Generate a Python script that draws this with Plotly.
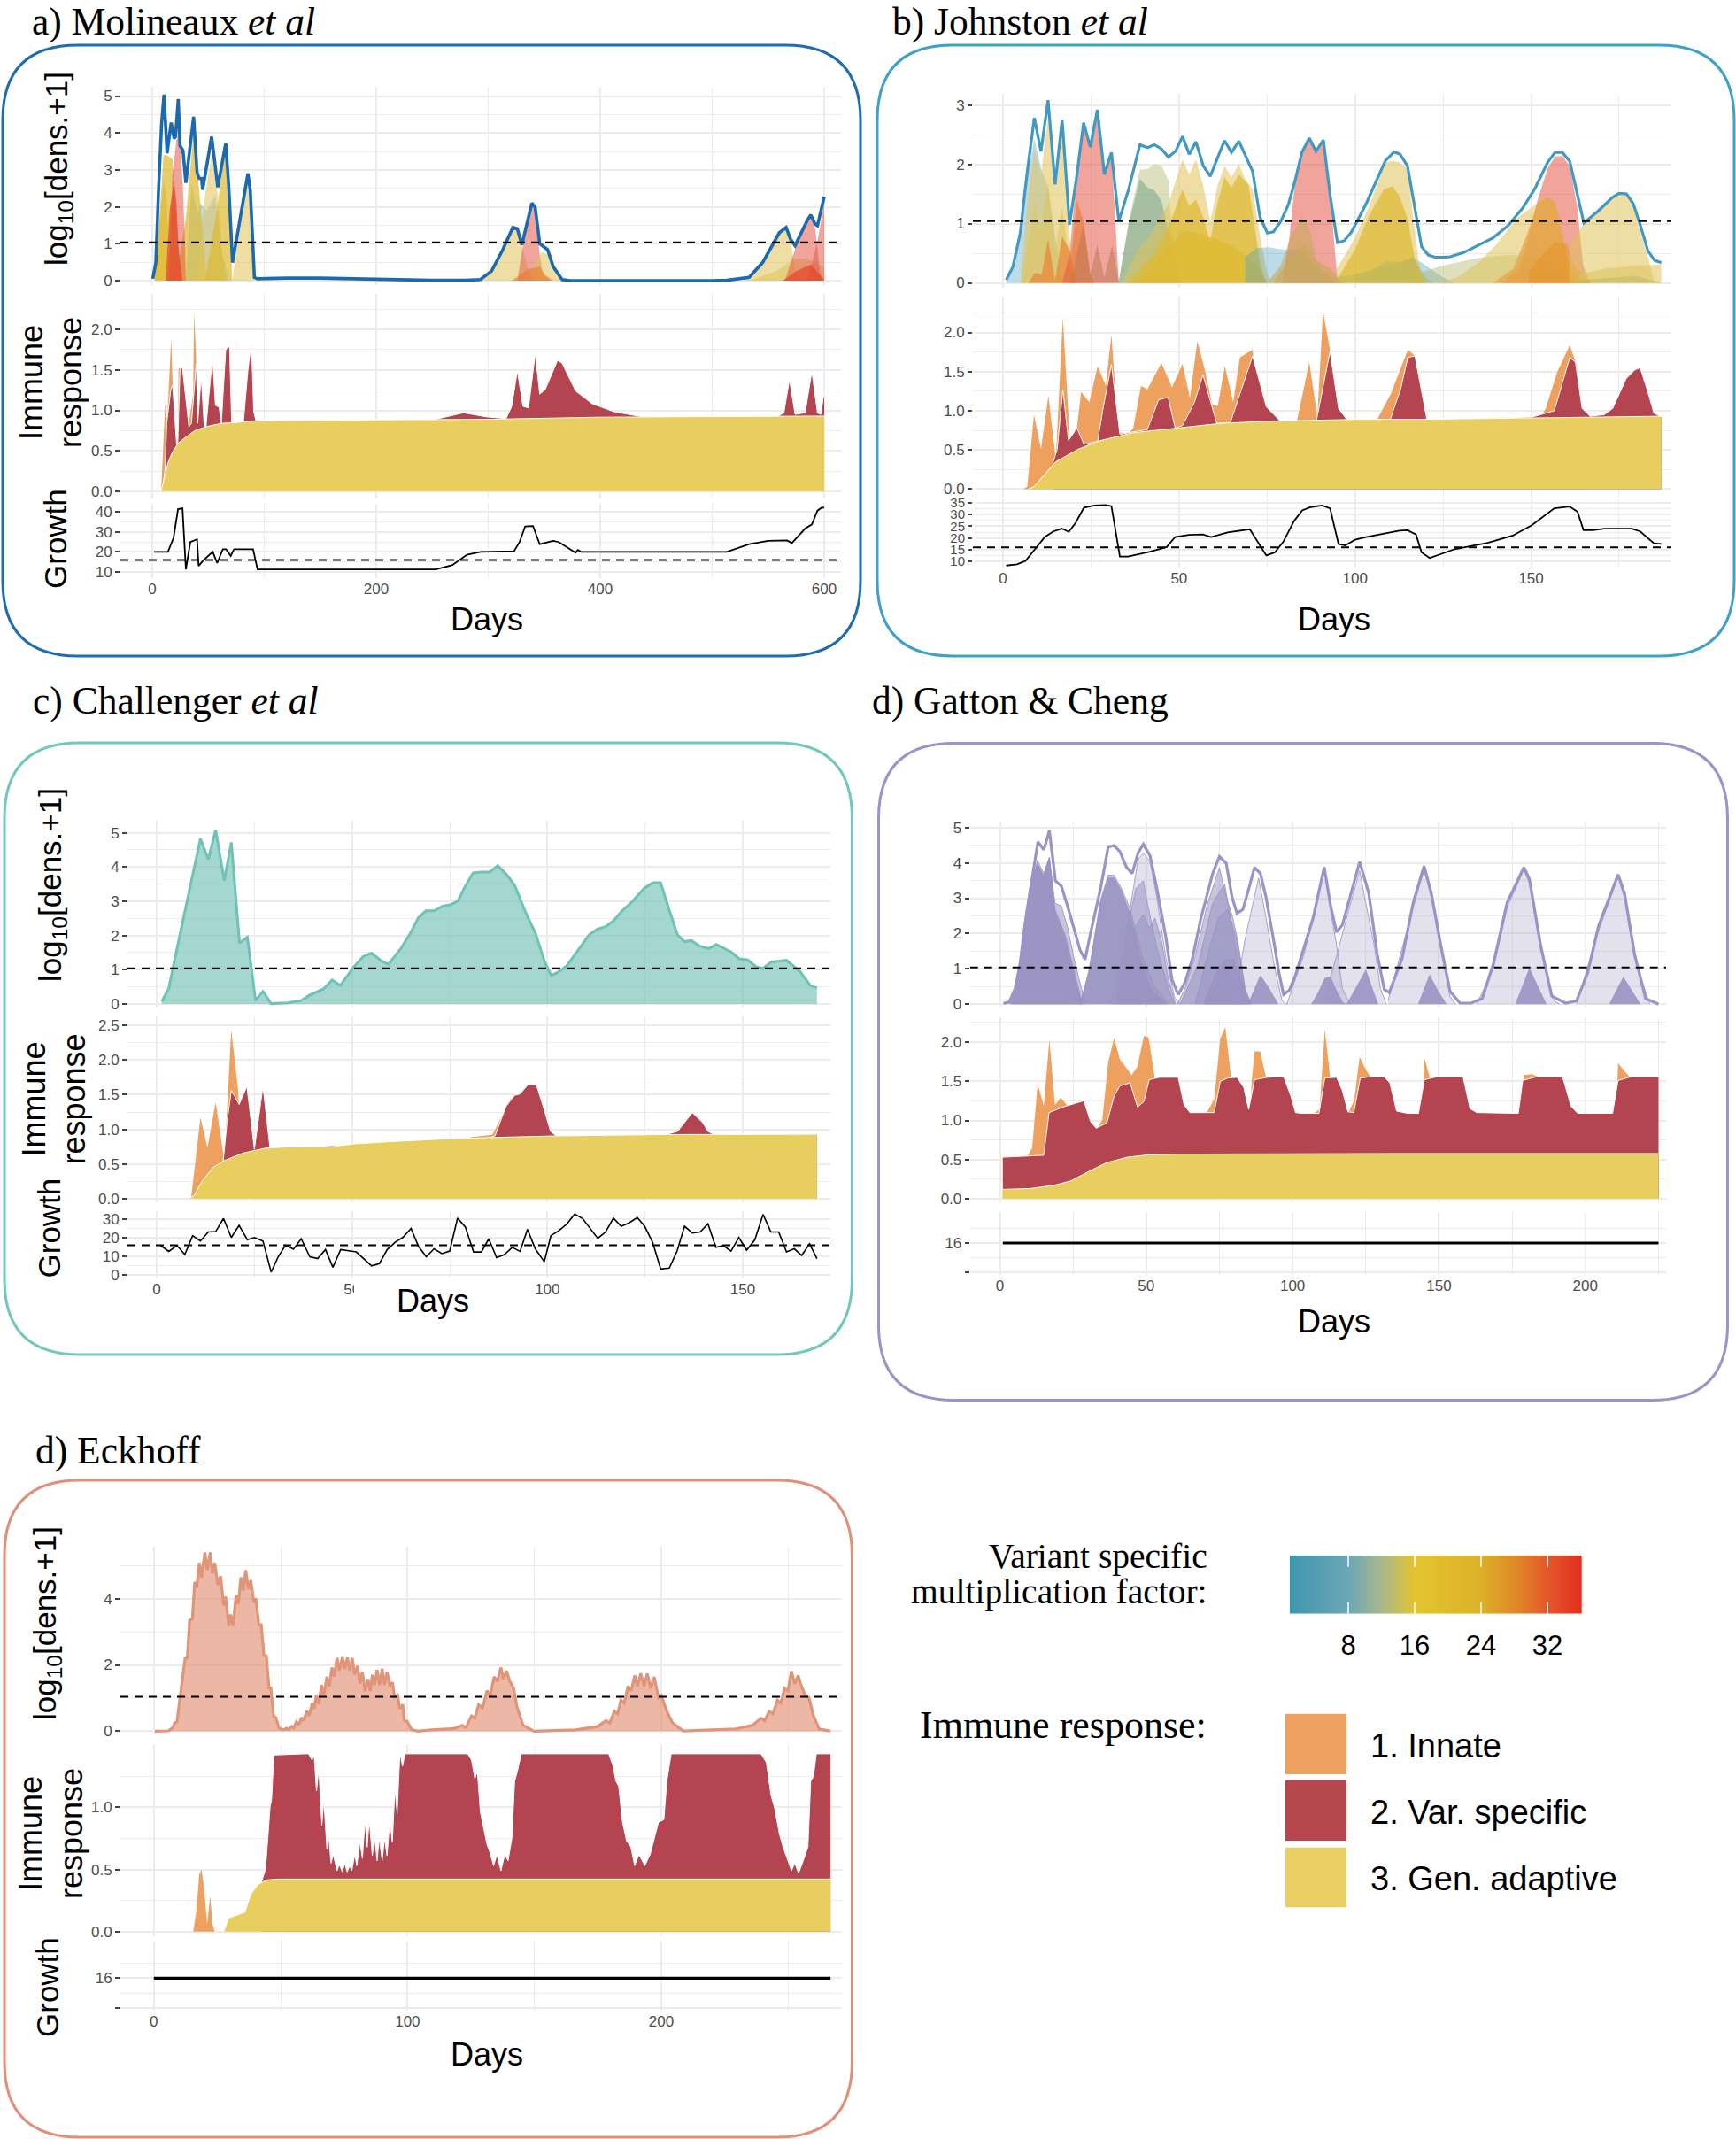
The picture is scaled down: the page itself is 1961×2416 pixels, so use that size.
import plotly.graph_objects as go

W, H = 1961, 2416

# ---------- Panel a) Molineaux ----------
A_TOTAL = [(0.5,.05),(3.2,.49),(5.8,2.6),(8.4,4.28),(10.5,5.04),(13.2,3.45),(16.9,4.28),(19.5,3.85),(20.8,3.9),(23.2,4.92),(24.8,3.65),(27.4,3.53),(30,2.65),(36.9,4.44),(40,2.93),(41.9,2.77),(44,2.77),(45,2.46),(53,3.9),(58.5,2.53),(65.6,3.72),(68.2,2.6),(71.7,.49),(85.4,2.9),(87.5,2.45),(91.2,.09),(93.8,.05),(120,.07),(150,.07),(200,.03),(250,.01),(280,.01),(293,.03),(303,.26),(313,.84),(322,1.44),(326,1.41),(330,.97),(339,2.1),(342,1.98),(346,1.0),(353,.84),(358,.38),(366,.03),(373,0),(500,0),(513,.01),(533,.09),(545,.49),(560,1.3),(566,1.44),(570,1.12),(574,.95),(585,1.64),(588,1.78),(592,1.53),(594,1.49),(600,2.27)]
A_V1 = [(2,0),(6,1.5),(10,3.4),(13,3.4),(18,3.3),(22,1.5),(26,0)]
A_V2 = [(14.8,0),(17.9,2.85),(21.6,3.8),(23.2,3.97),(25.3,3.56),(27.4,2.5),(29,1.2),(30,0)]
A_V3 = [(12,0),(15.5,1.9),(19.5,2.7),(21.6,2.1),(23.5,.85),(26,.2),(27,0)]
A_V4 = [(21,0),(30,1.7),(37,4.05),(42,2.5),(45,1.4),(48,.2),(49,0)]
A_V5 = [(40.5,0),(43,1.0),(47,2.3),(53,3.4),(58.5,2.3),(63,.5),(65,0)]
A_V6 = [(47,0),(57.7,1.9),(65.6,3.72),(68,2.6),(71.4,0)]
A_V7 = [(30,0),(35,2.6),(40.6,1.8),(43,2.1),(48.5,1.9),(56.4,2.3),(61.7,.85),(67,.1),(68,0)]
A_V8 = [(71.4,0),(85.4,2.9),(87.5,2.45),(91,0)]
A_V9 = [(2.4,0),(6.3,1.5),(10.3,2.7),(13,2.1),(15.5,.5),(17,0)]
A_W1 = [(293,0),(303,.26),(313,.84),(322,1.41),(326,1.35),(330,.95),(336,.26),(343,0)]
A_W2 = [(326,0),(331,.95),(339,2.06),(342,1.93),(346,.72),(349,.15),(356,0)]
A_W3 = [(338,0),(342,.49),(348,.78),(353,.72),(358,.38),(365,0)]
A_W4 = [(321,0),(336,.32),(346,.38),(351,.15),(358,0)]
A_X1 = [(528,0),(545,.49),(560,1.3),(566,1.41),(570,1.07),(575,.15),(583,0)]
A_X2 = [(565,0),(575,.95),(585,1.64),(588,1.75),(592,1.41),(596,.26),(598,0)]
A_X3 = [(585,0),(594,1.07),(600,2.1)]
A_X4 = [(533,0),(557,.26),(574,.6),(584,.6),(600,.38)]
A_X5 = [(563,0),(575,.26),(588,.44),(596,.15),(600,.03)]
A_YELLOW = [(7.9,0),(10.3,.15),(14.2,.36),(18.2,.49),(23.5,.6),(30,.67),(38,.75),(48.5,.8),(61.7,.84),(75,.85),(90.6,.87),(117,.875),(300,.89),(400,.916),(500,.925),(600,.93)]
A_RED = [(9,0),(11.6,.29),(12.9,.84),(16.5,1.25),(18.2,1.31),(21.6,.6),(22.7,.56),(24.8,1.51),(26.9,1.53),(32.7,.8),(35,.84),(39.3,1.58),(40.6,.84),(43.7,1.42),(46.4,.8),(48,.8),(53.8,1.66),(56.4,1.06),(59.6,1.04),(61.7,.84),(65.6,1.75),(69,1.79),(70.9,.84),(81.4,.86),(85.4,1.49),(88.5,1.84),(90.6,.98),(92.7,.87),(117,.875),(240,.885),(253,.89),(278,.97),(298,.92),(316,.9),(321,1.05),(326,1.49),(331,1.05),(336,1.03),(342,1.7),(346,1.2),(351,1.26),(362,1.62),(366,1.58),(378,1.24),(393,1.08),(413,.98),(438,.92),(558,.92),(564,.97),(569,1.38),(574,.95),(583,.97),(589,1.48),(594,.97),(597,.95),(600,1.23)]
A_ORANGE = [(7.9,0),(11.6,1.09),(12.9,.84),(14.5,1.2),(16.9,1.89),(18.2,1.31),(21.6,.6),(22.7,.56),(23.5,1.53),(24.8,1.51),(30,.6),(36.5,1.2),(37.4,2.22),(39.3,1.58),(40.6,.5),(45,0)]
A_GROWTH = [(1.5,20),(14,20),(19,27),(23,41.3),(27,41.7),(30,11.3),(34,24.9),(40,26.2),(41.4,13),(46,16),(54,20),(58,14.4),(63,21.3),(66,21.3),(70,18),(73,21.3),(90,21.3),(94,11.3),(253,11.3),(268,13.4),(281,18.6),(293,20),(323,20.3),(328,24.9),(333,32.7),(340,32.9),(346,23.8),(358,25.5),(363,24.9),(378,19.6),(380,21),(383,20),(513,20),(533,23.8),(550,25.5),(567,25.7),(571,24.3),(583,31.6),(589,33.7),(594,40.6),(598,42.1),(600,42)]

# ---------- Panel b) Johnston ----------
B_TOTAL = [(.9,.05),(2.8,.27),(4.9,.84),(6.8,1.83),(8.9,2.78),(10.8,2.22),(12.8,3.08),(14.8,1.66),(16.8,2.75),(18.9,.98),(20.9,1.78),(22.9,2.7),(24.8,2.29),(26.8,2.92),(28.8,1.83),(30.8,2.2),(32.9,1.04),(35.7,1.58),(38.9,2.33),(41,2.28),(43,2.33),(45,2.26),(47,2.12),(49,2.22),(51,2.47),(52.9,2.17),(54.8,2.38),(56.9,1.97),(58.9,1.8),(60.9,2.1),(62.9,2.4),(64.9,2.2),(67,2.39),(69,2.13),(70.9,1.88),(73,1.11),(75.1,.84),(76.8,.86),(78.9,1.04),(81,1.31),(83,1.73),(84.9,2.2),(87,2.44),(88.9,2.22),(91,2.41),(93,1.44),(95,.68),(96.9,.71),(99,.86),(103.2,1.34),(108.6,2.06),(111.1,2.21),(112.8,2.17),(114.9,1.97),(117,1.29),(118.9,.61),(120.8,.47),(122.9,.43),(124.9,.43),(127,.44),(130.8,.51),(135,.63),(139.2,.76),(143.4,.96),(147.6,1.26),(151,1.58),(154.7,2.03),(156.8,2.2),(158.9,2.2),(161,2.05),(163.1,1.49),(165,1.01),(169,1.21),(173.1,1.44),(175,1.51),(177.1,1.5),(179,1.34),(181.1,.96),(183.2,.54),(185.1,.38),(187,.34)]
B_L1 = [(.9,0),(2.8,.24),(4.9,.79),(6.8,1.78),(8.9,2.43),(10.8,1.93),(12.8,1.6),(14.8,.79),(16.8,0)]
B_L2 = [(5,0),(6.8,1.29),(8.9,2.26),(10.8,1.83),(12.8,2.78),(14.8,1.63),(16.8,2.73),(18.9,.79),(20.6,0)]
B_L3 = [(5,0),(8.9,1.29),(10.8,.89),(12.8,1.73),(14.8,.54),(16.8,1.29),(18.9,.39),(21,0)]
B_L4 = [(7.2,0),(9.1,.17),(11,.14),(12.8,.74),(14.8,.04),(16.8,.79),(18.9,.54),(20.6,0)]
B_L5 = [(16.8,0),(18.9,.49),(20.9,1.78),(22.9,2.7),(24.8,2.29),(26.8,2.9),(28.8,1.83),(30.8,2.2),(32.9,0)]
B_L6 = [(18.7,.04),(21,1.39),(22.9,1.04),(24.8,.14),(26,0)]
B_L7 = [(19.3,.04),(22.9,.99),(24.8,.14),(26.8,.64),(28.8,.09),(31,.64),(33,0)]
B_L8 = [(32.8,0),(35.7,1.04),(38.9,1.91),(41,1.92),(43,2.0),(45,1.98),(47,1.73),(47.9,.89),(50.4,.04),(51,0)]
B_L9 = [(32.8,0),(35.7,.99),(38.9,1.76),(41,1.61),(43,1.56),(45,1.39),(47,.89),(50.4,0)]
B_L10 = [(33.6,0),(38.6,.59),(42.8,.89),(47,1.34),(51,2.08),(52.9,1.83),(54.8,2.08),(56.9,1.63),(58.9,1.04),(60.9,1.63),(62.9,1.97),(64.9,1.78),(67,2.0),(69,1.73),(70.9,1.58),(73,.79),(75.1,.14),(76.4,0)]
B_L11 = [(35.3,0),(42.8,.49),(47,.94),(51,1.58),(52.9,1.29),(54.8,1.41),(57,1.09),(58.8,.69),(60.9,1.34),(62.9,1.78),(64.9,1.61),(67,1.83),(69.7,1.66),(70.9,1.19),(73,.34),(74.7,0)]
B_L12 = [(38.6,0),(47,.59),(51,.89),(55.4,.84),(60.4,.74),(66.3,.59),(72.2,.29),(75.1,0)]
B_L13 = [(68.8,.44),(72.2,.59),(75.5,.6),(79.7,.56),(83.9,.56),(88.9,.29),(94.8,0)]
B_L14 = [(79.3,0),(81.4,.79),(83,1.73),(85,2.2),(87,2.44),(88.9,2.22),(91,2.41),(93,1.44),(94.8,.19),(95.2,0)]
B_L15 = [(75.5,.04),(78.9,.29),(82.2,.84),(85.2,1.11),(87.3,.89),(88.9,.39),(91.4,.19),(96.9,0)]
B_L16 = [(77,.04),(82.2,.44),(85.6,.66),(88.9,.39),(93.1,.24),(96.5,0)]
B_C1 = [(94.8,.24),(99.8,.74),(104,1.29),(108.6,2.03),(110.7,2.06),(112.8,2.03),(114.9,1.93),(117,.89),(118.4,.19),(120,0)]
B_C2 = [(94.8,.05),(99.8,.54),(104,1.14),(108.2,1.58),(110.7,1.63),(112.8,1.44),(114.9,1.09),(117,.39),(120,0)]
B_C3 = [(116.6,.14),(125,.29),(135,.42),(143.4,.47),(152.6,.44),(157.6,.29),(161.8,.04),(163.5,0)]
B_C4 = [(99.8,.14),(116.6,.42),(119,.34),(125,.09),(128.3,0)]
B_C5 = [(94.8,.1),(99.8,.14),(104,.19),(109,.37),(112.4,.34),(116.6,.44),(120,.09),(122.4,0)]
B_C6 = [(123.3,0),(129,.09),(135,.34),(140,.64),(146,1.09),(151,1.31),(153.4,1.44),(156.8,1.36),(159.3,.79),(161.8,.24),(163.5,0)]
B_C7 = [(141.7,0),(146.7,.24),(149.3,.79),(151.8,1.39),(154.7,1.93),(156.8,2.13),(158.9,2.14),(161,1.98),(163.1,1.29),(164.8,.29),(166.9,0)]
B_C8 = [(139.2,0),(145,.24),(149.3,.89),(151.8,1.34),(154.7,1.44),(156.8,1.36),(158.5,.94),(161,.24),(163.5,.09),(166.4,0)]
B_C9 = [(149.3,.19),(153.4,.49),(156.8,.69),(160.2,.66),(162.2,.29),(166.9,0)]
B_C10 = [(161,.69),(165,.99),(169,1.21),(173.1,1.41),(175.2,1.49),(177.1,1.47),(179,1.29),(181.1,.84),(183.2,.44),(184.9,.04),(187,0)]
B_C11 = [(163.5,.14),(171,.24),(179.4,.29),(187,.31)]
B_C12 = [(163.5,.04),(172.7,.09),(179.4,.12),(187,0)]
B_YELLOW = [(7.2,0),(8.8,.03),(15,.35),(21.4,.51),(27.7,.62),(37,.72),(49.7,.78),(62,.84),(75,.865),(100,.89),(119,.89),(150,.91),(187,.93)]
B_RED = [(14.3,.35),(15.4,.51),(17,1.27),(18.6,.62),(21,.78),(23,.57),(26.9,.61),(28.5,1.05),(30.8,1.59),(33.2,.7),(37,.73),(41,.76),(44.2,1.14),(46.9,1.17),(48.9,.78),(51,.81),(54.4,1.11),(56.8,1.46),(60.7,.84),(64.6,.85),(70.9,1.7),(74.8,1.05),(78.8,.865),(89,.865),(92.9,1.76),(95.3,1.03),(97.6,.89),(100,.88),(110,.89),(112.9,1.27),(115,1.68),(117,1.7),(120.4,.89),(150.3,.92),(156.6,1.0),(159,1.38),(161,1.68),(162.6,1.62),(164.5,1.03),(166.8,.93),(170.8,.95),(173.2,1.03),(177,1.41),(179.4,1.52),(181,1.55),(183.3,1.22),(184.9,.97),(187,.92)]
B_ORANGE = [(5.7,0),(6.9,.03),(8.8,.95),(10.8,.51),(12.9,1.19),(15,.38),(17,2.19),(19,.62),(21,.78),(22.2,1.24),(24.5,1.11),(26.9,1.57),(29.2,1.32),(30.8,1.97),(32.7,.73),(35.5,.7),(37,.78),(39.2,1.32),(41,1.27),(45,1.61),(48,1.3),(51,1.6),(53.1,1.16),(55.2,1.89),(57.5,1.49),(59.4,1.08),(61,1.06),(63,1.57),(65.4,1.11),(67.3,1.68),(70.9,1.78),(72,1.2),(78,.5),(83.5,.87),(87,1.62),(89.3,.92),(90.9,2.27),(92.9,1.78),(95.3,.9),(100,.5),(106.3,.89),(110.2,1.22),(115,1.78),(117,1.7),(119,.8),(151,.8),(154.2,1.03),(157.4,1.49),(161,1.84),(162.9,1.59),(164.5,.9),(166,0)]
B_GROWTH = [(.9,8.2),(4,8.7),(6.4,10.2),(8.8,14.7),(11.9,20.4),(14.3,22.8),(16.7,24),(18.7,22.6),(20.6,26.4),(23,33),(26,33.9),(29.2,34.1),(30.8,33.6),(33.2,12),(35.5,12),(41.8,14.1),(46.5,16.1),(48.9,20.4),(52.8,21.3),(56.8,21.5),(59.1,20.4),(63.8,22.4),(70.1,23.7),(74.8,12.5),(77.2,13.8),(79.6,18.3),(82.7,27.3),(85,31.8),(87.4,33.2),(90.6,33.9),(92.9,32.7),(95.3,17.4),(97.2,16.8),(100,19.2),(103.1,20.4),(112.6,23.1),(114.9,23.3),(117.3,21.5),(118.9,13.8),(121.2,11.4),(128.3,15.2),(137.7,17.9),(144.8,21),(150.3,25.5),(156.6,32.7),(161,33.4),(163.2,31.2),(164.9,23.3),(167.6,23.3),(170.8,24),(178.6,24),(181,22.8),(184.9,17.7),(187,17.4)]

# ---------- Panel c) Challenger ----------
C_TOTAL = [(1.3,.07),(3.1,.46),(5.2,1.62),(7.4,2.81),(9.5,3.87),(11.2,4.83),(13.2,4.22),(15.1,5.08),(17.3,3.6),(19.1,4.72),(21.2,1.78),(23.2,1.95),(25.3,.1),(27.2,.37),(29.3,.01),(33.5,.03),(37,.1),(39.2,.26),(42.7,.44),(44.9,.7),(47,.54),(50.5,1.09),(52.9,1.39),(55,1.49),(57.6,1.25),(59.3,1.16),(62.5,1.62),(64.7,2.02),(67,2.52),(68.9,2.72),(71,2.72),(73.2,2.86),(75.3,2.9),(77.1,3.01),(78.8,3.4),(81,3.83),(83.1,3.85),(85.2,3.85),(87.3,4.04),(89.4,3.8),(91.6,3.47),(94.4,2.68),(96.9,2.08),(99.3,1.23),(101,.83),(102.9,.94),(105,1.12),(107.1,1.46),(110.7,2.02),(112.8,2.19),(114.9,2.26),(117,2.44),(119.1,2.72),(121.3,2.94),(124.8,3.38),(127,3.54),(129,3.54),(131.2,2.74),(133.3,2.02),(135.1,1.82),(136.8,1.85),(139,1.69),(141.4,1.62),(143.2,1.74),(147,1.52),(149.1,1.32),(151.3,1.29),(153.4,1.09),(155.2,1.04),(157.4,1.23),(161.2,1.28),(164.7,.94),(167.3,.54),(169,.47)]
C_YELLOW = [(8,0),(9.5,.04),(11.6,.25),(14.4,.45),(17.3,.55),(22.2,.66),(27.9,.73),(35,.75),(44.9,.75),(50.5,.79),(59,.82),(73.2,.86),(87.3,.885),(101.5,.905),(129.8,.925),(169,.93)]
C_RED = [(17,.53),(18,1.1),(19.1,1.56),(21.1,1.36),(23.1,1.62),(25,.71),(27.2,1.62),(29,.73),(35,.74),(84.5,.87),(86.6,.905),(89.4,1.33),(91.6,1.49),(93,1.51),(95.1,1.65),(97.2,1.64),(99.3,1.26),(100.8,.97),(102.2,.91),(130,.92),(133.3,.97),(137.1,1.24),(139.7,1.1),(141.1,.97),(142.5,.93),(169,.92)]
C_ORANGE = [(8.8,0),(10,.6),(11.2,1.17),(13,.74),(15.1,1.39),(17.3,.55),(19.1,2.43),(20.8,1.59),(22,.5),(78,.5),(80.2,.885),(85.9,.92),(88.7,1.23),(90.8,1.46),(92,.8),(94,0)]
C_GROWTH = [(1,15.9),(3.1,12.7),(5.2,15.9),(7.2,11),(9.2,21.2),(11.2,18.3),(13.2,23.2),(15.1,23.4),(17.1,30.5),(19.1,20.2),(21.1,26.8),(23.2,19),(25,20.2),(27.2,18.3),(29.3,1.5),(31.1,9.8),(33,16.1),(35,13.9),(37,19.5),(39.2,9.8),(41.2,8.8),(43.2,13.7),(45.1,4.1),(47.1,13.7),(51.1,12.4),(55,4.9),(57,6.1),(59,13.7),(61.1,17.8),(63,20.2),(65.1,25.1),(67,15.4),(69,9.8),(71,14.1),(73,11.5),(75,12.9),(77,30.7),(79,25.9),(81.1,12.4),(83.1,12.4),(85,19.5),(87,9.3),(89,11),(91,14.9),(93,12.7),(94.9,24.6),(96.9,14.1),(99.2,7.1),(100.9,21.2),(102.9,23.9),(105,27.6),(107,32.9),(109,30.5),(111,25.1),(112.9,19.8),(114.9,23.2),(116.9,30.7),(118.9,26.3),(120.8,28),(123,31),(124.9,26.3),(126.9,17.8),(129,3.2),(131.2,3.7),(133.2,12.9),(135.1,26.3),(137.1,22.7),(139.1,23.2),(141.1,27.6),(143.1,14.9),(145,15.9),(147,12.9),(149,20.2),(151,13.4),(153.1,19),(155.2,32.7),(157.2,23.2),(159.2,23.2),(161.2,12.4),(163.2,14.1),(165.1,10.5),(167.1,16.8),(169,8.8)]

# ---------- Panel d) Gatton & Cheng ----------
D_TOTAL = [(1.2,.02),(3.2,.06),(5.2,.44),(7.2,1.27),(9.2,2.61),(11.2,3.7),(13,4.6),(15,4.37),(16.9,4.91),(19,3.49),(21,3.34),(23.1,2.78),(25.4,2.11),(27.4,1.53),(29.1,1.26),(31,2.03),(34.4,3.28),(37,4.45),(39,4.49),(41,4.32),(43.2,3.88),(45.2,3.7),(47.2,4.28),(49,4.53),(51.3,4.2),(53.6,3.28),(56.6,1.94),(58.8,.69),(60.9,.27),(63.2,.61),(65.7,1.27),(68.7,2.44),(72.7,3.7),(75,4.18),(77.3,3.99),(79.3,3.03),(81,2.57),(83,2.68),(84.8,3.2),(87,3.87),(89,3.7),(90.9,3.03),(93.4,1.86),(95.4,.86),(96.9,.27),(98.9,.4),(101,.82),(104,1.61),(107,2.44),(110.8,3.88),(113,2.78),(115,2.04),(117,2.24),(119.6,3.03),(122.9,4.03),(126,3.14),(128.9,1.42),(131.3,.42),(133,.33),(137.4,1.29),(141.2,2.88),(144.9,3.91),(147.4,3.14),(150.6,1.68),(153.8,.36),(157.2,.03),(161,.03),(164.8,.16),(168.6,1.15),(173.3,2.88),(179,3.87),(180.9,3.54),(184.7,1.68),(188.5,.23),(193.2,.03),(197,.09),(200.8,.89),(204.5,2.21),(211.2,3.67),(213.4,3.14),(216.8,1.42),(220.6,.16),(225,0)]
D_L1 = [(3.2,0),(5.2,.2),(7.2,1.1),(9.2,2.36),(11.2,3.45),(12.8,4.07),(15,3.7),(16.9,4.16),(18.8,2.86),(21,2.78),(23.1,2.19),(25.4,1.27),(28.4,.27),(29.4,.02)]
D_L2 = [(4.2,0),(6.2,.69),(8.2,2.03),(10.2,3.03),(12.8,3.91),(15,3.57),(16.9,4.13),(18.8,2.53),(22.3,1.69),(25.4,.69),(27.9,0)]
D_L3 = [(3.8,0),(6.2,.9),(8.2,2.25),(10.2,3.3),(12.8,3.98),(15,3.63),(16.9,4.14),(18.8,2.68),(22.3,1.95),(25.4,.95),(28.2,0)]
D_L4 = [(27.4,0),(30.4,.86),(34.4,2.86),(37,3.57),(39,3.57),(41.5,3.2),(44.5,2.53),(47.5,1.36),(51.6,.44),(56.6,0)]
D_L5 = [(27.4,0),(30.4,.95),(34.4,2.95),(37,3.65),(39,3.65),(41.5,3.28),(44.5,2.7),(48.5,1.36),(52.6,.52),(57.6,0)]
D_L6 = [(37.5,0),(41.5,1.2),(44.5,2.7),(47.2,4.1),(49,4.28),(51.3,4.03),(53.6,3.03),(56.6,1.36),(59.6,.2),(61.5,0)]
D_L7 = [(39.5,0),(44.5,2.53),(46.5,3.28),(49,3.49),(50.6,2.78),(53.6,1.61),(57.6,.44),(59.6,0)]
D_L8 = [(40.5,0),(45.5,2.11),(49,2.53),(51,2.15),(53,2.44),(55,1.86),(57.6,.69),(60,0)]
D_L9 = [(60.6,0),(63.2,.44),(66.7,1.36),(70.7,2.78),(75,3.87),(77.3,3.03),(79.3,2.53),(81.3,1.78),(83.8,.44),(85.8,0)]
D_L10 = [(61.6,0),(67.7,1.11),(72.7,2.86),(76.8,3.4),(78.8,2.44),(81.3,1.19),(83.8,.27),(85.3,0)]
D_L11 = [(66.7,0),(71.7,1.61),(74.7,2.44),(77.8,2.69),(80.8,1.86),(83.8,.36),(85.8,0)]
D_L12 = [(69.7,0),(73.8,.86),(76.8,1.23),(79.8,1.27),(82.8,.52),(85.3,0)]
D_L13 = [(70.7,0),(74.7,.6),(76.8,.98),(79.3,.6),(81.8,.18),(83.8,0)]
D_L14 = [(78.8,0),(81,.52),(83.8,1.86),(88.4,3.57),(90.9,2.44),(93.9,1.02),(96.4,.1),(98,0)]
D_L15 = [(84.8,0),(87,.44),(89,.8),(91.4,.52),(95,0)]
D_L16 = [(98,0),(104,1.44),(110.8,3.82),(113,2.61),(115,1.69),(117,.44),(119.6,0)]
D_L17 = [(106.5,0),(109,.36),(111,.73),(113,.76),(115,.36),(117,.06),(118,0)]
D_L18 = [(111,.2),(115,1.36),(119,2.61),(122.9,3.78),(125,2.86),(128,1.61),(130,.44),(132,0)]
D_L19 = [(118.6,0),(121.6,.44),(125,.96),(127.2,.44),(129.1,0)]
D_L20 = [(132.6,.1),(141.2,2.75),(144.9,3.8),(147.4,3.0),(150.6,1.55),(153.8,.22),(155.7,0)]
D_L21 = [(143,0),(146.8,.82),(149.7,.36),(152.5,0)]
D_L22 = [(162.9,0),(168.6,1.02),(173.3,2.75),(179,3.8),(180.9,3.41),(184.7,1.55),(189.4,.09),(191.3,0)]
D_L23 = [(176.2,0),(180.9,1),(186.6,0)]
D_L24 = [(197,0),(204.5,2.08),(211.2,3.6),(213.4,3.0),(216.8,1.29),(222,0)]
D_L25 = [(208.3,0),(213,.76),(218.7,0)]
D_YELLOW = [(1,.12),(10.2,.13),(18.3,.17),(24.3,.23),(30.4,.35),(36.4,.46),(43.5,.53),(50.6,.56),(60.6,.57),(133,.577),(225,.577)]
D_RED = [(1,.53),(15,.555),(16.8,1.1),(22.3,1.18),(28.7,1.25),(30.9,.99),(32.9,.9),(36.6,.97),(39,1.31),(41,1.44),(44.5,1.48),(47,1.17),(49.2,1.24),(51,1.52),(54.6,1.55),(60.9,1.55),(62.9,1.2),(64.9,1.1),(73.2,1.1),(75.3,1.5),(77.8,1.54),(81,1.55),(83.3,1.42),(85,1.14),(87,1.52),(91.4,1.55),(96.9,1.56),(99.4,1.31),(101,1.1),(103,1.09),(109,1.09),(111,1.54),(115,1.55),(117,1.38),(118.9,1.11),(120.9,1.1),(123.1,1.54),(127.2,1.56),(131.2,1.56),(133.2,1.48),(135.5,1.12),(139.3,1.09),(143,1.09),(145,1.52),(149.7,1.56),(158.2,1.56),(160.6,1.15),(162.9,1.1),(177.1,1.09),(178.6,1.51),(183.7,1.56),(192.2,1.56),(195.1,1.18),(197.4,1.09),(209.3,1.09),(211.2,1.51),(215.9,1.56),(225,1.56)]
D_ORANGE = [(9.2,.535),(11,.64),(12.9,1.47),(15,1.18),(16.9,2.03),(18.8,1.2),(20.8,1.29),(22.8,1.2),(24,.5),(32,.5),(33.4,.9),(35,1.01),(37,1.74),(39,2.05),(41,1.78),(45,1.58),(47,1.69),(49.2,2.08),(50.8,2.06),(52.8,1.57),(54,.5),(69,.5),(70.7,1.1),(73.2,1.27),(75.3,2.05),(77,2.19),(78.8,1.61),(80,.5),(85,.5),(86,1.5),(87,1.88),(88.9,1.88),(90.9,1.55),(92,.5),(106,.5),(107.5,1.1),(109.2,1.14),(111,2.16),(112.8,1.55),(114,.5),(118,.5),(119,1.1),(121,1.25),(122.9,1.81),(125,1.65),(126.7,1.55),(128,.5),(144,.5),(145,1.8),(146.8,1.56),(148,.5),(177,.5),(178.1,1.09),(179,1.58),(181.8,1.59),(183.7,1.56),(185,.5),(210,.5),(211.2,1.73),(215,1.56),(216,.5),(225,.5)]
D_GROWTH = [(1,16),(225,16)]

# ---------- Panel e) Eckhoff ----------
E_TOTAL = [(.4,0),(5.7,.01),(7.4,.1),(8.2,.25),(9.1,.28),(10.3,1.03),(12.3,2.19),(13.2,2.21),(14.1,3.35),(15.2,3.39),(16.1,4.5),(16.9,4.33),(17.9,5.08),(18.8,4.64),(20.1,5.39),(21,4.86),(22.2,5.39),(23.1,4.77),(24,5.08),(25.2,4.41),(26.3,4.68),(27.5,3.79),(28.3,4.06),(29.5,3.17),(30.2,3.52),(31.2,3.17),(32.4,4.1),(33.3,3.84),(34.3,4.64),(35.3,4.24),(36.2,4.86),(37.3,4.28),(38.2,4.55),(39.4,3.88),(40.2,4.01),(41.4,3.21),(42.3,3.21),(43.4,2.28),(44.3,2.28),(45.4,1.3),(46.1,1.3),(47.2,.45),(48.1,.41),(49.3,.1),(51,.04),(52.2,.09),(53.1,.05),(54.3,.14),(55.1,.1),(56.2,.28),(57.1,.19),(58.2,.41),(59.1,.32),(60.3,.61),(61.2,.46),(62.4,.84),(63.2,.68),(64,1.08),(65,.81),(66.1,1.39),(67,1.08),(68.2,1.64),(69.2,1.35),(70.2,1.92),(71.1,1.65),(72.2,2.21),(73.1,1.83),(74.3,2.23),(75.2,1.88),(76.3,2.22),(77.2,1.83),(78.2,2.21),(79.1,1.71),(80.3,1.97),(81.2,1.44),(82.2,1.79),(83.2,1.21),(84.4,1.57),(85.3,1.21),(86.1,1.7),(87,1.39),(88,1.85),(88.9,1.39),(90,1.88),(90.9,1.39),(91.9,1.79),(93.1,1.35),(94,1.48),(94.9,1.03),(96.1,1.08),(96.9,.68),(98.1,.81),(98.7,.32),(99.8,.3),(101.6,.05),(104,0),(109.5,.04),(118.2,.08),(121.5,.18),(123,.11),(125.2,.46),(126.5,.39),(128,.8),(129.6,.71),(131.3,1.22),(132.6,1.08),(134.1,1.64),(135.4,1.5),(136.8,1.92),(137.8,1.57),(139,1.82),(140.3,1.5),(141.8,1.29),(143.1,.74),(145.5,.18),(149.8,0),(166.2,.04),(174.9,.14),(178.2,.32),(179.7,.25),(181.5,.6),(182.8,.53),(184.1,.94),(185.4,.85),(186.9,1.36),(188.2,1.22),(189.5,1.68),(190.6,1.36),(191.9,1.74),(193.2,1.36),(194.5,1.74),(195.8,1.29),(197.2,1.64),(198.9,1.01),(200,1.08),(202.2,.6),(204.4,.25),(208.7,.01),(229.4,.07),(236,.18),(239.3,.39),(240.8,.32),(242.5,.6),(244,.53),(245.8,.94),(247.1,.85),(248.6,1.29),(249.9,1.22),(251.3,1.81),(252.6,1.43),(253.9,1.68),(255.2,1.36),(256.7,1.08),(258.2,1.01),(260,.46),(262.2,.07),(266.7,0)]
E_YELLOW = [(27.5,0),(29.5,.11),(35.9,.155),(38.2,.3),(41.1,.38),(44.6,.416),(48.7,.423),(266.7,.423)]
E_RED = [(42.3,.39),(44,.5),(45,.77),(45.8,1.0),(46.4,1.06),(47.3,1.42),(59.7,1.43),(61,1.43),(62.3,1.38),(63.2,1.41),(64.1,1.13),(65,1.31),(66.2,.855),(67,1.06),(68.2,.66),(68.9,.78),(69.8,.55),(70.7,.62),(72.2,.49),(73.1,.54),(74.3,.48),(75.2,.55),(76.2,.48),(77.2,.53),(78,.49),(79.2,.62),(80,.53),(81.2,.72),(82.2,.59),(83.2,.89),(84.1,.68),(84.9,.9),(86.1,.61),(87,.76),(88,.57),(88.8,.75),(90,.57),(90.9,.75),(91.9,.61),(93,.89),(94,.72),(95,1.15),(95.9,.95),(97,1.44),(98,1.33),(99,1.43),(123.7,1.43),(125.2,1.38),(126.5,1.23),(127.5,1.29),(128.7,.96),(130.2,.81),(131.3,.7),(132.4,.64),(133.9,.53),(135.2,.62),(136.8,.49),(138.3,.62),(139.6,.57),(141.1,.75),(142.2,1.21),(143.3,1.29),(144.8,1.43),(179.3,1.43),(181,1.33),(182.1,1.21),(183.2,1.17),(184.7,.88),(186.3,.73),(188,.68),(189.5,.53),(191.2,.62),(193.5,.53),(195.6,.62),(198.9,.88),(201,.9),(202.2,1.21),(203.9,1.43),(239.3,1.43),(241.4,1.36),(243.2,1.1),(244.7,.99),(246.5,.79),(248,.68),(249.5,.59),(251.3,.49),(252.6,.55),(254.1,.47),(255.6,.55),(257.8,.68),(258.9,1.21),(260,1.25),(261.1,1.43),(266.7,1.43)]
E_ORANGE = [(15.5,0),(16.7,.155),(17.9,.46),(18.8,.5),(19.8,.345),(21,.06),(22.2,.285),(23.1,.06),(24,0)]
E_GROWTH = [(0,16),(266.7,16)]

# ---------- Shared values ----------
DENSITY_THRESHOLD = 1.04
GROWTH_THRESHOLD = 16
MF_VALUES = [1,2,3,4,5,6,7,8,9,10,11,12,13,14,15,16,17,18,19,20,21,22,23,24,25,26,27,28,29,30,31,32,33,34,35,36]
MF_TICKS = [8, 16, 24, 32]
IMMUNE_LABELS = ["1. Innate", "2. Var. specific", "3. Gen. adaptive"]

# ---------- Styles ----------
ORANGE, RED, YELLOW = "#EEA05F", "#B4444F", "#E8CD5F"
SWATCH = ["#EEA05F", "#B6474F", "#E9CF63"]
GRID = "#EFEBE9"
TICK = "#4d4d4d"
SANS, SERIF = "Liberation Sans", "Liberation Serif"
YP = "rgba(224,194,90,.55)"
YS = "rgba(222,186,50,.72)"
SA = "rgba(228,90,75,.55)"
RD = "rgba(228,70,40,.72)"
BL = "rgba(80,160,190,.38)"
OR = "rgba(232,125,45,.62)"
OL = "rgba(175,178,100,.42)"
BR = "rgba(190,120,90,.55)"
TA = "rgba(200,170,90,.6)"
TG = "rgba(110,160,130,.5)"
PD = "rgba(155,149,195,.92)"
PM = "rgba(155,149,195,.55)"
PL = "rgba(155,149,195,.28)"
PLINE = "rgba(150,143,192,.8)"

A_LAYERS = [(A_V1,YS),(A_V9,YS),(A_V7,BL),(A_V4,YS),(A_V5,YP),(A_V6,YS),(A_V8,YP),(A_V2,SA),(A_V3,RD),
            (A_W1,YP),(A_W2,SA),(A_W3,YP),(A_W4,OR),(A_X1,YP),(A_X4,YP),(A_X2,SA),(A_X3,SA),(A_X5,RD)]
B_LAYERS = [(B_L1,BL),(B_L2,YP),(B_L3,YP),(B_L4,OR),(B_L5,SA),(B_L6,OR),(B_L7,BR),(B_L8,OL),(B_L9,TG),(B_L10,YP),(B_L11,YS),(B_L12,YS),
            (B_L13,BL),(B_L14,SA),(B_L15,TA),(B_L16,TA),(B_C4,BL),(B_C3,OL),(B_C1,YP),(B_C2,YS),(B_C5,OL),(B_C7,SA),(B_C6,YP),(B_C8,"rgba(228,160,60,.68)"),(B_C9,"rgba(228,150,40,.55)"),(B_C10,YP),(B_C11,YP),(B_C12,OL)]
D_LAYERS = [(D_L1,PM),(D_L3,PD),(D_L2,PD),(D_L6,PL),(D_L7,PM),(D_L8,PM),(D_L5,PM),(D_L4,PD),(D_L9,PM),(D_L10,PM),(D_L11,PM),(D_L14,PL),(D_L12,PD),(D_L13,PD),(D_L15,PD),
            (D_L16,PL),(D_L18,PL),(D_L17,PD),(D_L19,PD),(D_L20,PL),(D_L21,PD),(D_L22,PL),(D_L23,PD),(D_L24,PL),(D_L25,PD)]

PANELS = [
 dict(name="a", frame=(3,51,972,741,"#1F6DB0",3), title=("a) Molineaux <i>et al</i>",34,24), main="#1B6AAF", mw=3.6, gfont=17,
      layers=A_LAYERS, total=A_TOTAL, orange=A_ORANGE, red=A_RED, yellow=A_YELLOW, growth=A_GROWTH,
      x=(136,950,0,172,600,931), xmaj=[0,200,400,600], xmin=[100,300,500],
      d=(98,322,0,317,5,108.5), dmaj=[0,1,2,3,4,5], dmin=[.5,1.5,2.5,3.5,4.5],
      i=(332,563,0,555,2,372), imaj=[0,.5,1,1.5,2], imin=[.25,.75,1.25,1.75,2.25],
      g=(569,653,10,646,40,578), gmaj=[10,20,30,40], gtxt=None, gmin=[15,25,35], gw=1.8, gdash=True,
      days=(550,699), ylab=dict(log=(66,191),imm=(35,79,432),gro=(63,608)), showfill=False),
 dict(name="b", frame=(991,51,1959,741,"#3FA0C9",3), title=("b) Johnston <i>et al</i>",1006,24), main="#4198C3", mw=3.2, gfont=15,
      layers=B_LAYERS, total=B_TOTAL, orange=B_ORANGE, red=B_RED, yellow=B_YELLOW, growth=B_GROWTH,
      x=(1099,1888,0,1133,150,1729.5), xmaj=[0,50,100,150], xmin=[25,75,125,175],
      d=(106,325,0,319.5,3,118.6), dmaj=[0,1,2,3], dmin=[.5,1.5,2.5],
      i=(335,562,0,552.4,2,375.5), imaj=[0,.5,1,1.5,2], imin=[.25,.75,1.25,1.75,2.25],
      g=(564,641,10,634,35,568), gmaj=[10,15,20,25,30,35], gtxt=None, gmin=[12.5,17.5,22.5,27.5,32.5], gw=1.8, gdash=True,
      days=(1507,699), ylab=None, showfill=False),
 dict(name="c", frame=(5,839,962.5,1530,"#72C8BC",3), title=("c) Challenger <i>et al</i>",34.5,791), main="#6FC2B6", mw=3, gfont=17,
      layers=[], total=C_TOTAL, orange=C_ORANGE, red=C_RED, yellow=C_YELLOW, growth=C_GROWTH,
      x=(144,937.5,0,177,150,839), xmaj=[0,50,100,150], xmin=[25,75,125],
      d=(927,1136.5,0,1134,5,940.6), dmaj=[0,1,2,3,4,5], dmin=[.5,1.5,2.5,3.5,4.5],
      i=(1148,1358,0,1354,2.5,1158), imaj=[0,.5,1,1.5,2,2.5], imin=[.25,.75,1.25,1.75,2.25],
      g=(1368,1444,0,1440,30,1377.3), gmaj=[0,10,20,30], gtxt=None, gmin=[5,15,25], gw=1.6, gdash=True,
      days=(489,1469), ylab=dict(log=(59,1000),imm=(37.5,82.5,1242),gro=(55,1387.5)), showfill="rgba(110,190,180,.62)"),
 dict(name="d", frame=(992.5,839.5,1951.5,1581.5,"#9B93C9",3), title=("d) Gatton &amp; Cheng",983,791), main="#9A93C7", mw=3.2, gfont=17,
      layers=D_LAYERS, total=D_TOTAL, orange=D_ORANGE, red=D_RED, yellow=D_YELLOW, growth=D_GROWTH,
      x=(1095.7,1882,0,1129.5,200,1790.8), xmaj=[0,50,100,150,200], xmin=[25,75,125,175,225],
      d=(928,1137,0,1134.2,5,934.7), dmaj=[0,1,2,3,4,5], dmin=[.5,1.5,2.5,3.5,4.5],
      i=(1149,1358,0,1354,2,1177), imaj=[0,.5,1,1.5,2], imin=[.25,.75,1.25,1.75,2.25],
      g=(1368.7,1440,14,1436.5,16,1404), gmaj=[14,16], gtxt=["","16"], gmin=[15,17], gw=3.2, gdash=False,
      days=(1507,1492), ylab=None, showfill=False),
 dict(name="e", frame=(5,1672,962.5,2414,"#E0907A",3), title=("d) Eckhoff",37.6,1638), main="#E09478", mw=3.2, gfont=17,
      layers=[], total=E_TOTAL, orange=E_ORANGE, red=E_RED, yellow=E_YELLOW, growth=E_GROWTH,
      x=(136,951,0,173.8,200,747), xmaj=[0,100,200], xmin=[50,150,250],
      d=(1746.8,1958,0,1955.4,4,1805.6), dmaj=[0,2,4], dmin=[1,3,5],
      i=(1969.5,2187,0,2181.8,1,2041.3), imaj=[0,.5,1], imin=[.25,.75,1.25],
      g=(2193,2271,14,2267.7,16,2234.4), gmaj=[14,16], gtxt=["","16"], gmin=[15,17], gw=3.2, gdash=False,
      days=(550,2320), ylab=dict(log=(53,1834),imm=(34,80,2071),gro=(53,2245)), showfill="rgba(224,140,110,.62)"),
]


def px(v):
    return v / W


def py(v):
    return 1 - v / H


def unzip(pairs):
    return [p[0] for p in pairs], [p[1] for p in pairs]


def cal_range(p_lo, p_hi, v1, p1, v2, p2):
    k = (v2 - v1) / (p2 - p1)
    return [v1 + (p_lo - p1) * k, v1 + (p_hi - p1) * k]


fig = go.Figure()
layout = {}
shapes = []
annots = []


def note(text, x, y, size, family=SANS, anchor="center", angle=0, color="black"):
    annots.append(dict(text=text, x=px(x), y=py(y), xref="paper", yref="paper", showarrow=False,
                       xanchor=anchor, yanchor="middle", textangle=angle,
                       font=dict(family=family, size=size, color=color)))


def rounded(x0, y0, x1, y1, color, width, r=85):
    a, b, c, d = px(x0), px(x1), py(y0), py(y1)
    rx, ry = r / W, r / H
    path = (f"M {a+rx} {c} L {b-rx} {c} Q {b} {c} {b} {c-ry} L {b} {d+ry} Q {b} {d} {b-rx} {d} "
            f"L {a+rx} {d} Q {a} {d} {a} {d+ry} L {a} {c-ry} Q {a} {c} {a+rx} {c} Z")
    shapes.append(dict(type="path", path=path, xref="paper", yref="paper",
                       line=dict(color=color, width=width), fillcolor="rgba(0,0,0,0)", layer="below"))


def axes(idx, p, rowkey, maj, minr, txt, labels, tsize=17):
    xl, xr, v1, p1, v2, p2 = p["x"]
    top, bot, yv1, yp1, yv2, yp2 = p[rowkey]
    suffix = "" if idx == 1 else str(idx)
    layout["xaxis" + suffix] = dict(
        domain=[px(xl), px(xr)], range=cal_range(xl, xr, v1, p1, v2, p2), anchor="y" + suffix, automargin=False,
        tickmode="array", tickvals=p["xmaj"], ticktext=[str(t) for t in p["xmaj"]], showticklabels=labels,
        ticks="", showgrid=True, gridcolor=GRID, gridwidth=2, zeroline=False, showline=False,
        tickfont=dict(family=SANS, size=17, color=TICK),
        minor=dict(tickmode="array", tickvals=p["xmin"], showgrid=True, gridcolor=GRID, gridwidth=1, ticks=""))
    layout["yaxis" + suffix] = dict(
        domain=[py(bot), py(top)], range=cal_range(bot, top, yv1, yp1, yv2, yp2), anchor="x" + suffix, automargin=False,
        tickmode="array", tickvals=maj, ticktext=txt, ticks="outside", ticklen=5, tickwidth=1.5, tickcolor="#444",
        showgrid=True, gridcolor=GRID, gridwidth=2, zeroline=False, showline=False,
        tickfont=dict(family=SANS, size=tsize, color=TICK),
        minor=dict(tickmode="array", tickvals=minr, showgrid=True, gridcolor=GRID, gridwidth=1, ticks=""))
    return ("x" + suffix, "y" + suffix)


def area(pairs, axs, fill, line=None, lw=0):
    xs, ys = unzip(pairs)
    fig.add_trace(go.Scatter(x=xs, y=ys, xaxis=axs[0], yaxis=axs[1], mode="lines", fill="tozeroy", fillcolor=fill,
                             line=dict(color=line or "rgba(0,0,0,0)", width=lw), showlegend=False, hoverinfo="skip"))


def line(pairs, axs, color, width, dash=None):
    xs, ys = unzip(pairs)
    fig.add_trace(go.Scatter(x=xs, y=ys, xaxis=axs[0], yaxis=axs[1], mode="lines",
                             line=dict(color=color, width=width, dash=dash), showlegend=False, hoverinfo="skip"))


n = 1
for p in PANELS:
    xl, xr, v1, p1, v2, p2 = p["x"]
    xspan = cal_range(xl, xr, v1, p1, v2, p2)
    rounded(*p["frame"][:4], p["frame"][4], p["frame"][5])
    note(p["title"][0], p["title"][1], p["title"][2], 43.5, SERIF, "left")

    # density
    ax = axes(n, p, "d", p["dmaj"], p["dmin"], [str(t) for t in p["dmaj"]], False)
    purple = p["name"] == "d"
    for pairs, col in p["layers"]:
        area(pairs, ax, col, PLINE if purple else None, 1 if purple else 0)
    if p["showfill"]:
        area(p["total"], ax, p["showfill"])
    line(p["total"], ax, p["main"], p["mw"])
    line([(xspan[0], DENSITY_THRESHOLD), (xspan[1], DENSITY_THRESHOLD)], ax, "black", 2, "9px,7px")

    # immune
    ax = axes(n + 1, p, "i", p["imaj"], p["imin"], [f"{t:.1f}" for t in p["imaj"]], False)
    area(p["orange"], ax, ORANGE)
    area(p["red"], ax, RED, "white", 1)
    area(p["yellow"], ax, YELLOW, "white", 1)

    # growth
    txt = p["gtxt"] or [str(t) for t in p["gmaj"]]
    ax = axes(n + 2, p, "g", p["gmaj"], p["gmin"], txt, True, p["gfont"])
    line(p["growth"], ax, "black", p["gw"])
    if p["gdash"]:
        line([(xspan[0], GROWTH_THRESHOLD), (xspan[1], GROWTH_THRESHOLD)], ax, "black", 2, "9px,7px")

    note("Days", p["days"][0], p["days"][1], 36)
    if p["ylab"]:
        yl = p["ylab"]
        note("log<sub>10</sub>[dens.+1]", yl["log"][0], yl["log"][1], 35, angle=-90)
        note("Immune", yl["imm"][0], yl["imm"][2], 36, angle=-90)
        note("response", yl["imm"][1], yl["imm"][2], 36, angle=-90)
        note("Growth", yl["gro"][0], yl["gro"][1], 35, angle=-90)
    n += 3

# white patch over part of the '50' tick label of panel c, as in the original
shapes.append(dict(type="rect", xref="paper", yref="paper", x0=px(400), x1=px(440), y0=py(1466), y1=py(1444),
                   fillcolor="white", line=dict(width=0), layer="above"))

# colour bar legend
cs_pos = [(1,"#3F97B0"),(8,"#6CA7B6"),(12,"#A9B88C"),(16,"#E3C42F"),(24,"#DCB128"),(28,"#E08A28"),(32,"#E3582A"),(36,"#E3301F")]
colorscale = [[(v - 1) / 35, c] for v, c in cs_pos]
suffix = str(n)
fig.add_trace(go.Heatmap(z=[MF_VALUES], x=MF_VALUES, y=[0], xaxis="x" + suffix, yaxis="y" + suffix,
                         colorscale=colorscale, showscale=False, zsmooth="best", hoverinfo="skip"))
bar_l, bar_r, bar_t, bar_b = 1456.7, 1787, 1756.7, 1822.7
layout["xaxis" + suffix] = dict(domain=[px(bar_l), px(bar_r)], range=cal_range(bar_l, bar_r, 8, 1523, 32, 1748),
                                anchor="y" + suffix, tickmode="array", tickvals=MF_TICKS, ticktext=[str(t) for t in MF_TICKS],
                                ticks="outside", ticklen=8, tickcolor="rgba(0,0,0,0)", showgrid=False, zeroline=False, showline=False,
                                automargin=False, tickfont=dict(family=SANS, size=31, color="black"))
layout["yaxis" + suffix] = dict(domain=[py(bar_b), py(bar_t)], range=[-.5, .5], anchor="x" + suffix,
                                visible=False, fixedrange=True, automargin=False)
for t in MF_TICKS:
    for a, b in ((bar_t, bar_t + 13), (bar_b - 13, bar_b)):
        shapes.append(dict(type="line", xref="x" + suffix, yref="paper", x0=t, x1=t, y0=py(a), y1=py(b),
                           line=dict(color="white", width=1.5), layer="above"))

note("Variant specific", 1366, 1758, 39.5, SERIF, "right")
note("multiplication factor:", 1366, 1798, 39.5, SERIF, "right")
note("Immune response:", 1365, 1948, 44, SERIF, "right")

for lab, col, (y0, y1), yc in zip(IMMUNE_LABELS, SWATCH,
                                  [(1935.7, 2004), (2010.7, 2079), (2086.7, 2154.3)], [1971.7, 2046.7, 2121.7]):
    shapes.append(dict(type="rect", xref="paper", yref="paper", x0=px(1452), x1=px(1521), y0=py(y0), y1=py(y1),
                       fillcolor=col, line=dict(width=0)))
    note(lab, 1546, yc, 38, SANS, "left")

fig.update_layout(width=W, height=H, margin=dict(l=0, r=0, t=0, b=0), paper_bgcolor="white", plot_bgcolor="white",
                  shapes=shapes, annotations=annots, showlegend=False, **layout)
fig.write_html("out.html", post_script="document.body.style.margin='0';", config={"displayModeBar": False})
